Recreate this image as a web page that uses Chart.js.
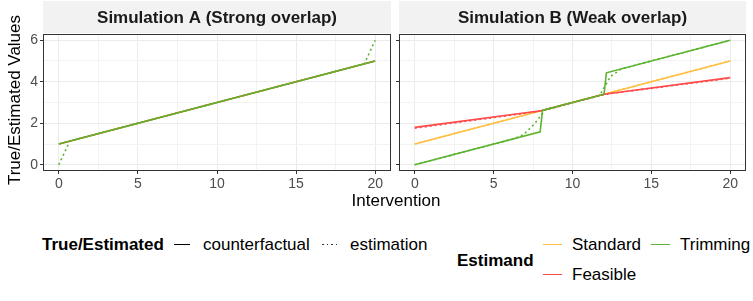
<!DOCTYPE html>
<html>
<head>
<meta charset="utf-8">
<script src="https://cdn.jsdelivr.net/npm/chart.js@4.4.0/dist/chart.umd.min.js"></script>
<style>
  html, body { margin: 0; padding: 0; background: #ffffff; }
  body { width: 753px; height: 301px; position: relative; overflow: hidden;
         font-family: "Liberation Sans", Arial, sans-serif; }
  canvas { position: absolute; top: 0; }
  .t { position: absolute; white-space: nowrap; line-height: 20px; height: 20px; color: #000; font-size: 17px; }
  .b { font-weight: bold; }
  .ln { position: absolute; height: 0; }
</style>
</head>
<body>
<canvas id="cA" width="395" height="195" style="left:0px"></canvas>
<canvas id="cB" width="358" height="195" style="left:395px"></canvas>

<div class="t" style="left:-85px; top:90px; width:200px; text-align:center; transform:rotate(-90deg);">True/Estimated Values</div>
<div class="t" style="left:296px; top:191px; width:200px; text-align:center;">Intervention</div>

<div class="t b" style="left:42px; top:235px;">True/Estimated</div>
<div class="ln" style="left:174px; top:244px; width:16px; border-top:1.6px solid #000;"></div>
<div class="t" style="left:203px; top:235px;">counterfactual</div>
<div class="ln" style="left:322px; top:244px; width:17px; height:1.3px; background:repeating-linear-gradient(90deg,#333 0 1.6px,transparent 1.6px 4.5px);"></div>
<div class="t" style="left:350px; top:235px;">estimation</div>

<div class="t b" style="left:457px; top:251px;">Estimand</div>
<div class="ln" id="lgStd" style="left:543px; top:244px; width:19px;"></div>
<div class="t" style="left:572px; top:235px;">Standard</div>
<div class="ln" id="lgTrim" style="left:651px; top:244px; width:19px;"></div>
<div class="t" style="left:680px; top:235px;">Trimming</div>
<div class="ln" id="lgFeas" style="left:543px; top:274px; width:19px;"></div>
<div class="t" style="left:572px; top:265px;">Feasible</div>

<script>
// ---------------- DATA ----------------
const panelTitles = ["Simulation A (Strong overlap)", "Simulation B (Weak overlap)"];
const estimands = ["Standard", "Feasible", "Trimming"];
const estimandColors = ["#FFBF40", "#FF4B4B", "#5DB32F"];

const xTicks = [0, 2.5, 5, 7.5, 10, 12.5, 15, 17.5, 20];
const xMajor = [0, 5, 10, 15, 20];
const yTicks = [0, 1, 2, 3, 4, 5, 6];
const yMajor = [0, 2, 4, 6];

// Panel A — counterfactual (solid)
const A_cf_standard_x = [0, 20];
const A_cf_standard_y = [1, 5];
const A_cf_feasible_x = [0, 20];
const A_cf_feasible_y = [1, 5];
const A_cf_trimming_x = [0, 20];
const A_cf_trimming_y = [1, 5];
// Panel A — estimation (dotted); Standard/Feasible are fully hidden under Trimming
const A_est_standard_x = [];
const A_est_standard_y = [];
const A_est_feasible_x = [];
const A_est_feasible_y = [];
const A_est_trimming_x = [0, 0.69, 19.31, 20];
const A_est_trimming_y = [0, 1.14, 4.86, 6];

// Panel B — counterfactual (solid)
const B_cf_standard_x = [0, 20];
const B_cf_standard_y = [1, 5];
const B_cf_feasible_x = [0, 8, 12, 20];
const B_cf_feasible_y = [1.8, 2.6, 3.4, 4.2];
const B_cf_trimming_x = [0, 7.95, 8.1, 12, 12.15, 20];
const B_cf_trimming_y = [0, 1.59, 2.62, 3.4, 4.43, 6];
// Panel B — estimation (dotted)
const B_est_standard_x = [0, 20];
const B_est_standard_y = [1, 5];
const B_est_feasible_x = [0, 7.59, 8.28, 11.72, 12.41, 20];
const B_est_feasible_y = [1.76, 2.54, 2.64, 3.33, 3.43, 4.17];
const B_est_trimming_x = [0, 6.21, 6.9, 7.59, 8.28, 11.72, 12.41, 13.1, 20];
const B_est_trimming_y = [0, 1.24, 1.45, 1.97, 2.66, 3.34, 4.25, 4.62, 6];

// ---------------- BUILD ----------------
document.getElementById('lgStd').style.borderTop = '1.6px solid ' + estimandColors[0];
document.getElementById('lgFeas').style.borderTop = '1.6px solid ' + estimandColors[1];
document.getElementById('lgTrim').style.borderTop = '1.6px solid ' + estimandColors[2];

function pts(xs, ys) { return xs.map((v, i) => ({ x: v, y: ys[i] })); }

function makeDatasets(p) {
  const ds = [];
  // draw order: Trimming on top, then Feasible, then Standard; estimation above counterfactual
  for (let k = 0; k < 3; k++) {
    ds.push({
      label: estimands[k] + ' estimation',
      data: pts(p.est[k][0], p.est[k][1]),
      borderColor: estimandColors[k],
      borderWidth: 1.6,
      borderDash: [2, 3],
      pointRadius: 0, tension: 0, fill: false,
      order: (2 - k) * 2
    });
    ds.push({
      label: estimands[k] + ' counterfactual',
      data: pts(p.cf[k][0], p.cf[k][1]),
      borderColor: estimandColors[k],
      borderWidth: 1.6,
      pointRadius: 0, tension: 0, fill: false,
      order: (2 - k) * 2 + 1
    });
  }
  return ds;
}

const panelPlugin = {
  id: 'panelDeco',
  beforeDraw(chart, args, opts) {
    const ctx = chart.ctx, a = chart.chartArea;
    ctx.save();
    ctx.fillStyle = '#F2F2F2';
    ctx.fillRect(a.left, 1, a.right - a.left, 32);
    ctx.fillStyle = '#1A1A1A';
    ctx.font = 'bold 17px "Liberation Sans", Arial, sans-serif';
    ctx.textAlign = 'center';
    ctx.textBaseline = 'middle';
    ctx.fillText(opts.title, (a.left + a.right) / 2, 18);
    ctx.restore();
  },
  afterDatasetsDraw(chart) {
    const ctx = chart.ctx, a = chart.chartArea;
    ctx.save();
    ctx.strokeStyle = '#333333';
    ctx.lineWidth = 1;
    ctx.strokeRect(Math.round(a.left) + 0.5, Math.round(a.top) + 0.5,
                   Math.round(a.right - a.left) - 1, Math.round(a.bottom - a.top) - 1);
    ctx.restore();
  }
};

function makeChart(id, title, datasets, showYLabels, rightPad) {
  return new Chart(document.getElementById(id), {
    type: 'line',
    data: { datasets },
    plugins: [panelPlugin],
    options: {
      responsive: false,
      animation: false,
      devicePixelRatio: 1,
      layout: { padding: { top: 34, right: rightPad, left: 0, bottom: 0 } },
      plugins: {
        legend: { display: false },
        tooltip: { enabled: false },
        panelDeco: { title }
      },
      scales: {
        x: {
          type: 'linear', min: -1, max: 21,
          afterBuildTicks: s => { s.ticks = xTicks.map(v => ({ value: v })); },
          afterFit: s => { s.height = 24; },
          border: { display: false },
          grid: {
            color: c => xMajor.includes(c.tick.value) ? '#EBEBEB' : '#F3F3F3',
            lineWidth: 1,
            tickColor: c => xMajor.includes(c.tick.value) ? '#333333' : 'rgba(0,0,0,0)',
            tickLength: 3
          },
          ticks: {
            autoSkip: false, maxRotation: 0, padding: 2,
            color: '#4D4D4D',
            font: { size: 14, family: '"Liberation Sans", Arial, sans-serif' },
            callback: v => xMajor.includes(v) ? String(v) : ''
          }
        },
        y: {
          type: 'linear', min: -0.3, max: 6.3,
          afterBuildTicks: s => { s.ticks = yTicks.map(v => ({ value: v })); },
          afterFit: s => { s.width = showYLabels ? 43 : 4; },
          border: { display: false },
          grid: {
            color: c => yMajor.includes(c.tick.value) ? '#EBEBEB' : '#F3F3F3',
            lineWidth: 1,
            tickColor: c => yMajor.includes(c.tick.value) ? '#333333' : 'rgba(0,0,0,0)',
            tickLength: 3
          },
          ticks: {
            display: showYLabels, autoSkip: false, padding: 2,
            color: '#4D4D4D',
            font: { size: 14, family: '"Liberation Sans", Arial, sans-serif' },
            callback: v => yMajor.includes(v) ? String(v) : ''
          }
        }
      }
    }
  });
}

const dsA = makeDatasets({
  cf: [[A_cf_standard_x, A_cf_standard_y], [A_cf_feasible_x, A_cf_feasible_y], [A_cf_trimming_x, A_cf_trimming_y]],
  est: [[A_est_standard_x, A_est_standard_y], [A_est_feasible_x, A_est_feasible_y], [A_est_trimming_x, A_est_trimming_y]]
});
const dsB = makeDatasets({
  cf: [[B_cf_standard_x, B_cf_standard_y], [B_cf_feasible_x, B_cf_feasible_y], [B_cf_trimming_x, B_cf_trimming_y]],
  est: [[B_est_standard_x, B_est_standard_y], [B_est_feasible_x, B_est_feasible_y], [B_est_trimming_x, B_est_trimming_y]]
});

makeChart('cA', panelTitles[0], dsA, true, 4);
makeChart('cB', panelTitles[1], dsB, false, 7);
</script>
</body>
</html>
